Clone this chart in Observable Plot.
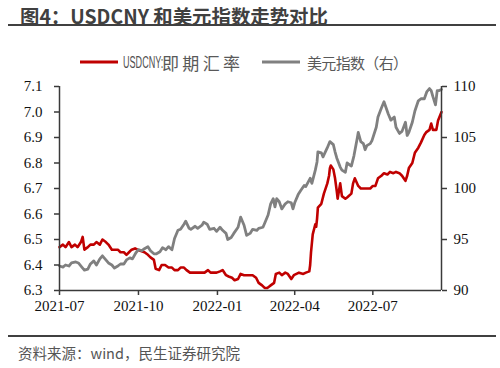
<!DOCTYPE html>
<html>
<head>
<meta charset="utf-8">
<script src="https://cdn.jsdelivr.net/npm/d3@7"></script>
<script src="https://cdn.jsdelivr.net/npm/@observablehq/plot@0.6"></script>
<style>
  html, body { margin: 0; padding: 0; background: #fff; }
  body { width: 500px; height: 368px; position: relative; overflow: hidden; }
  .abs { position: absolute; }
  #title { left: 20px; top: 4px; font-family: "Noto Sans CJK SC", "Open Sans", sans-serif; font-weight: 700; font-size: 19.4px; color: #404040; line-height: 24px; white-space: nowrap; }
  #tline { left: 8px; top: 24px; width: 488px; height: 2px; background: #404040; }
  #cline { left: 8px; top: 335px; width: 488px; height: 2px; background: #404040; }
  #caption { left: 18px; top: 343px; font-family: "Noto Sans CJK SC", sans-serif; font-size: 14.5px; color: #555; line-height: 20px; white-space: nowrap; }
  #chart { left: 0; top: 70px; }
  #legend { left: 0; top: 50px; }
</style>
</head>
<body>
<div id="title" class="abs">图4：USDCNY 和美元指数走势对比</div>
<div id="tline" class="abs"></div>
<svg id="legend" class="abs" width="500" height="24"></svg>
<div id="chart" class="abs"></div>
<div id="cline" class="abs"></div>
<div id="caption" class="abs">资料来源：wind，民生证券研究院</div>
<script>
// ---- data ----
const cnyDates = ["2021-07-01","2021-07-05","2021-07-08","2021-07-12","2021-07-15","2021-07-19","2021-07-22","2021-07-26","2021-07-28","2021-07-30",
"2021-08-03","2021-08-06","2021-08-10","2021-08-13","2021-08-17","2021-08-20","2021-08-24","2021-08-27","2021-08-31",
"2021-09-03","2021-09-07","2021-09-10","2021-09-14","2021-09-17","2021-09-20","2021-09-23","2021-09-27","2021-09-30",
"2021-10-08","2021-10-12","2021-10-15","2021-10-19","2021-10-21","2021-10-25","2021-10-28",
"2021-11-01","2021-11-05","2021-11-09","2021-11-12","2021-11-16","2021-11-19","2021-11-23","2021-11-26","2021-11-30",
"2021-12-03","2021-12-07","2021-12-10","2021-12-14","2021-12-17","2021-12-21","2021-12-24","2021-12-28","2021-12-31",
"2022-01-04","2022-01-07","2022-01-11","2022-01-14","2022-01-18","2022-01-21","2022-01-25","2022-01-28",
"2022-02-01","2022-02-08","2022-02-11","2022-02-15","2022-02-18","2022-02-22","2022-02-25","2022-02-28",
"2022-03-02","2022-03-04","2022-03-08","2022-03-10","2022-03-14","2022-03-17","2022-03-21","2022-03-24","2022-03-28","2022-03-31",
"2022-04-06","2022-04-11","2022-04-14","2022-04-18","2022-04-19","2022-04-20","2022-04-22","2022-04-25","2022-04-26","2022-04-27","2022-04-28",
"2022-05-02","2022-05-05","2022-05-09","2022-05-11","2022-05-12","2022-05-13","2022-05-16","2022-05-18","2022-05-20","2022-05-21","2022-05-24","2022-05-26","2022-05-30",
"2022-06-01","2022-06-06","2022-06-08","2022-06-10","2022-06-14","2022-06-17","2022-06-20","2022-06-23","2022-06-28",
"2022-07-01","2022-07-04","2022-07-07","2022-07-11","2022-07-14","2022-07-18","2022-07-21","2022-07-25","2022-07-28",
"2022-08-01","2022-08-04","2022-08-08","2022-08-10","2022-08-12","2022-08-16","2022-08-19","2022-08-23","2022-08-26","2022-08-30",
"2022-09-01","2022-09-05","2022-09-07","2022-09-09","2022-09-13","2022-09-15","2022-09-19"];
const cnyValues = [6.47,6.48,6.47,6.49,6.47,6.48,6.47,6.49,6.51,6.46,
6.47,6.48,6.48,6.49,6.48,6.50,6.49,6.48,6.46,
6.46,6.46,6.45,6.45,6.44,6.45,6.46,6.465,6.46,
6.45,6.44,6.43,6.42,6.385,6.38,6.40,
6.40,6.39,6.39,6.38,6.38,6.39,6.39,6.38,6.37,
6.37,6.37,6.37,6.37,6.37,6.38,6.37,6.37,6.37,
6.375,6.38,6.36,6.355,6.35,6.34,6.345,6.365,
6.36,6.36,6.36,6.35,6.33,6.32,6.31,6.31,
6.315,6.32,6.33,6.365,6.37,6.36,6.37,6.365,6.345,6.36,
6.37,6.365,6.37,6.375,6.40,6.45,6.52,6.56,6.55,6.58,6.625,
6.64,6.68,6.72,6.75,6.78,6.79,6.775,6.74,6.69,6.66,6.72,6.67,6.66,
6.665,6.68,6.72,6.74,6.71,6.70,6.70,6.70,6.70,
6.71,6.71,6.74,6.75,6.76,6.755,6.765,6.76,6.765,
6.76,6.75,6.73,6.75,6.78,6.80,6.84,6.86,6.88,6.91,
6.92,6.93,6.955,6.93,6.93,6.967,7.0];

const dxyDates = ["2021-07-01","2021-07-05","2021-07-08","2021-07-12","2021-07-15","2021-07-20","2021-07-23","2021-07-27","2021-07-30",
"2021-08-03","2021-08-06","2021-08-10","2021-08-13","2021-08-17","2021-08-20","2021-08-24","2021-08-27","2021-08-31",
"2021-09-03","2021-09-07","2021-09-10","2021-09-14","2021-09-17","2021-09-21","2021-09-24","2021-09-28",
"2021-10-01","2021-10-05","2021-10-08","2021-10-12","2021-10-15","2021-10-19","2021-10-22","2021-10-26","2021-10-29",
"2021-11-02","2021-11-05","2021-11-09","2021-11-12","2021-11-16","2021-11-19","2021-11-23","2021-11-25","2021-11-29",
"2021-12-01","2021-12-06","2021-12-09","2021-12-14","2021-12-16","2021-12-20","2021-12-23","2021-12-28","2021-12-31",
"2022-01-04","2022-01-07","2022-01-11","2022-01-13","2022-01-17","2022-01-20","2022-01-25","2022-01-28",
"2022-02-01","2022-02-04","2022-02-08","2022-02-11","2022-02-16","2022-02-18","2022-02-23","2022-02-25",
"2022-03-01","2022-03-04","2022-03-07","2022-03-09","2022-03-11","2022-03-14","2022-03-17","2022-03-21","2022-03-24","2022-03-28","2022-03-30",
"2022-04-01","2022-04-05","2022-04-08","2022-04-12","2022-04-14","2022-04-19","2022-04-21","2022-04-25","2022-04-27","2022-04-28",
"2022-05-02","2022-05-04","2022-05-09","2022-05-12","2022-05-16","2022-05-18","2022-05-20","2022-05-24","2022-05-26","2022-05-30",
"2022-06-01","2022-06-06","2022-06-09","2022-06-13","2022-06-14","2022-06-17","2022-06-20","2022-06-22","2022-06-24","2022-06-28","2022-06-30",
"2022-07-05","2022-07-07","2022-07-11","2022-07-14","2022-07-19","2022-07-22","2022-07-26","2022-07-28",
"2022-08-01","2022-08-04","2022-08-08","2022-08-10","2022-08-12","2022-08-16","2022-08-19","2022-08-23","2022-08-26","2022-08-30",
"2022-09-02","2022-09-05","2022-09-07","2022-09-09","2022-09-12","2022-09-14","2022-09-16","2022-09-19"];
const dxyValues = [92.4,92.3,92.5,92.4,92.7,92.8,92.7,92.3,92.0,
92.1,92.6,92.9,92.5,93.1,93.4,93.0,92.7,92.5,
92.2,92.4,92.6,92.6,93.0,93.2,93.1,93.7,
94.0,93.9,94.1,94.3,93.9,93.6,93.6,93.8,94.2,
94.0,94.3,94.0,95.1,95.9,96.0,96.5,96.8,96.1,
96.0,96.3,96.1,96.4,96.7,96.5,96.0,96.1,95.8,
96.2,95.9,95.6,95.0,95.2,95.6,96.2,97.2,
96.4,95.4,95.6,96.0,95.9,96.1,96.2,96.6,
97.4,98.5,99.0,98.2,99.0,98.7,98.0,98.5,98.7,98.6,98.0,
98.6,99.4,99.8,100.3,100.2,101.0,100.5,101.8,102.6,103.6,
103.5,103.1,104.0,104.6,104.3,103.6,103.0,102.1,101.8,101.6,
102.5,102.2,103.2,105.0,105.5,104.6,104.4,103.8,104.2,104.4,104.7,
106.0,107.0,107.9,108.5,107.3,106.7,107.0,106.0,
105.4,105.6,106.5,105.2,105.5,106.5,107.6,108.6,108.8,108.8,
109.5,109.8,109.6,109.0,108.2,109.6,109.6,109.7];

const leftTicks = [6.3, 6.4, 6.5, 6.6, 6.7, 6.8, 6.9, 7.0, 7.1];
const rightTicks = [90, 95, 100, 105, 110];
const xTicks = ["2021-07-01", "2021-10-01", "2022-01-01", "2022-04-01", "2022-07-01"];
const xStart = "2021-07-01", xEnd = "2022-09-19";
const seriesNames = ["USDCNY:即期汇率", "美元指数（右）"];
const colors = ["#C00000", "#808080"];

// ---- build ----
const parse = d3.utcParse("%Y-%m-%d");
const toLeft = v => 6.3 + (v - 90) * 0.04;       // right axis 90..110 -> left 6.3..7.1
const fromLeft = d => 90 + (d - 6.3) / 0.04;
const cny = cnyDates.map((d, i) => ({date: parse(d), v: cnyValues[i]}));
const dxy = dxyDates.map((d, i) => ({date: parse(d), v: toLeft(dxyValues[i])}));

const axisColor = "#3a3a3a";
const serif = "'Liberation Serif', 'Times New Roman', serif";

const chart = Plot.plot({
  width: 500,
  height: 260,
  marginLeft: 59,
  marginRight: 59,
  marginTop: 16,
  marginBottom: 40,
  style: {fontFamily: serif, fontSize: "15px", color: "#111", background: "transparent"},
  x: {type: "utc", domain: [parse(xStart), parse(xEnd)]},
  y: {domain: [6.3, 7.1]},
  marks: [
    Plot.line(cny, {x: "date", y: "v", stroke: colors[0], strokeWidth: 2.6, strokeLinejoin: "round"}),
    Plot.line(dxy, {x: "date", y: "v", stroke: colors[1], strokeWidth: 2.8, strokeLinejoin: "round"}),
    Plot.ruleX([parse(xStart), parse(xEnd)], {stroke: axisColor, strokeWidth: 1.5}),
    Plot.ruleY([6.3], {stroke: axisColor, strokeWidth: 1.5}),
    Plot.axisY(leftTicks, {anchor: "left", tickSize: 5, tickPadding: 12, stroke: axisColor, strokeWidth: 1.5,
      tickFormat: d => d.toFixed(1), label: null, fontSize: 15}),
    Plot.axisY(rightTicks.map(toLeft), {anchor: "right", tickSize: 5, tickPadding: 7, stroke: axisColor, strokeWidth: 1.5,
      tickFormat: d => String(Math.round(fromLeft(d))), label: null, fontSize: 15}),
    Plot.axisX(xTicks.map(parse), {anchor: "bottom", tickSize: 5, tickPadding: 5, stroke: axisColor, strokeWidth: 1.5,
      tickFormat: d3.utcFormat("%Y-%m"), label: null, fontSize: 15})
  ]
});
document.getElementById("chart").appendChild(chart);

// ---- legend ----
const lg = d3.select("#legend");
const ly = 12;
lg.append("line").attr("x1", 80).attr("x2", 118).attr("y1", ly).attr("y2", ly)
  .attr("stroke", colors[0]).attr("stroke-width", 3);
lg.append("text").attr("transform", `translate(123,${ly}) scale(0.55,1)`).attr("dominant-baseline", "central")
  .attr("font-family", "'Liberation Sans', Arial, sans-serif").attr("font-size", 16.5).attr("fill", "#505050")
  .text(seriesNames[0].slice(0, 7));
lg.append("text").attr("x", 162).attr("y", ly).attr("dominant-baseline", "central")
  .attr("font-family", "'Noto Sans CJK SC', sans-serif").attr("font-size", 17).attr("fill", "#595959")
  .attr("textLength", 78).attr("lengthAdjust", "spacing").text(seriesNames[0].slice(7));
lg.append("line").attr("x1", 262).attr("x2", 300).attr("y1", ly).attr("y2", ly)
  .attr("stroke", colors[1]).attr("stroke-width", 3);
lg.append("text").attr("x", 307).attr("y", ly).attr("dominant-baseline", "central")
  .attr("font-family", "'Noto Sans CJK SC', sans-serif").attr("font-size", 15).attr("fill", "#595959")
  .attr("textLength", 101).attr("lengthAdjust", "spacing").text(seriesNames[1]);
</script>
</body>
</html>
